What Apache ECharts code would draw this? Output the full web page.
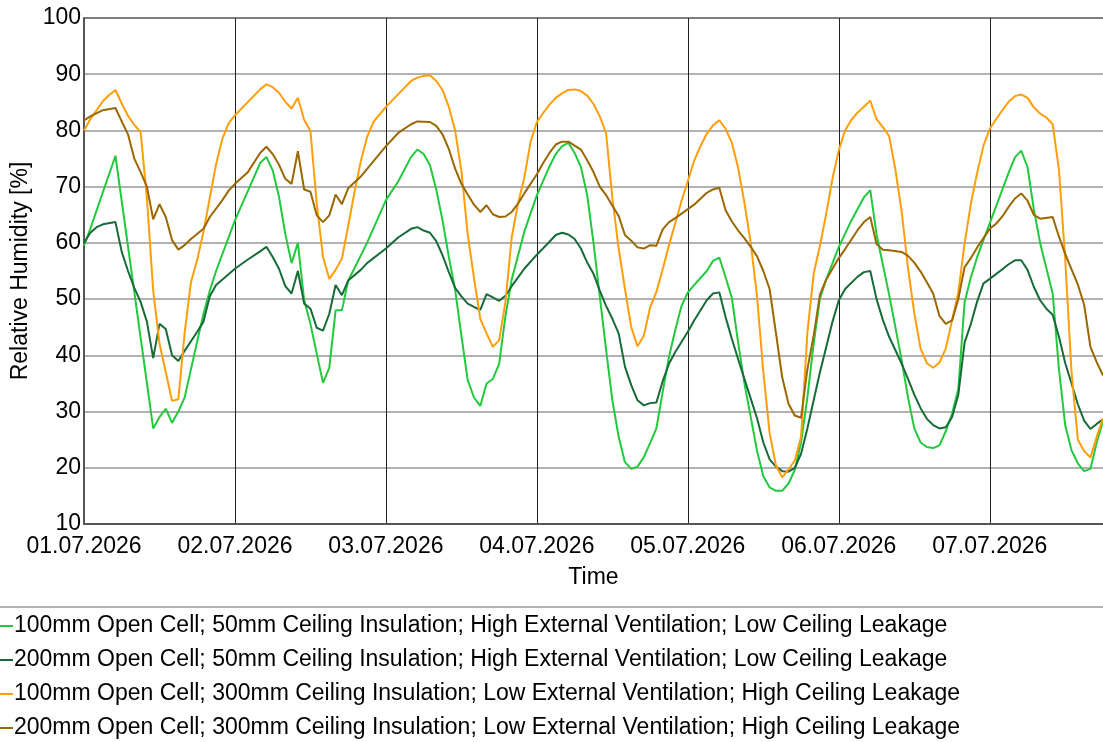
<!DOCTYPE html>
<html>
<head>
<meta charset="utf-8">
<script src="https://cdn.jsdelivr.net/npm/echarts@6/dist/echarts.min.js"></script>
<style>
  html, body { margin: 0; padding: 0; background: #fff; }
  #chart { width: 1103px; height: 742px; }
</style>
</head>
<body>
<div id="chart"></div>
<script>
// hours since 01.07.2026 00:00 -> relative humidity [%]
const dayLabels = ['01.07.2026', '02.07.2026', '03.07.2026', '04.07.2026', '05.07.2026', '06.07.2026', '07.07.2026']

const seriesNames = [
  '100mm Open Cell; 50mm Ceiling Insulation; High External Ventilation; Low Ceiling Leakage',
  '200mm Open Cell; 50mm Ceiling Insulation; High External Ventilation; Low Ceiling Leakage',
  '100mm Open Cell; 300mm Ceiling Insulation; Low External Ventilation; High Ceiling Leakage',
  '200mm Open Cell; 300mm Ceiling Insulation; Low External Ventilation; High Ceiling Leakage'
]

const rh100Low = [
  [0, 59.5], [1, 62.5], [5, 75.5], [11, 27], [12, 29], [13, 30.5], [14, 28], [15, 30], [16, 32.5], [17, 37.5],
  [18, 42.5], [19, 47.4], [20, 51.5], [21, 55], [24, 64], [28, 74.2], [29, 75.3], [30, 72.9], [31, 68.2], [32, 61.6],
  [33, 56.4], [34, 60], [35, 49.8], [36, 45.6], [37, 40.3], [38, 35.1], [39, 37.8], [40, 48], [41, 48], [42, 53.3],
  [43, 55.5], [45, 60], [48, 67.6], [50, 71], [52, 75.3], [53, 76.6], [54, 75.8], [55, 73.8], [56, 69.5], [57, 64],
  [58, 57.5], [59, 51.7], [60, 43.5], [61, 35.6], [62, 32.5], [63, 31], [64, 35], [65, 35.8], [66, 38.5], [67, 47],
  [68, 53.5], [70, 62], [72, 68.5], [74, 73.6], [75, 75.8], [76, 77.2], [77, 77.8], [78, 76], [79, 73.5], [80, 68.5],
  [81, 60], [82, 50.5], [83, 41], [84, 32], [85, 25.5], [86, 21], [87, 19.8], [88, 20.2], [89, 21.9], [90, 24.4],
  [91, 27], [92, 33.5], [93, 39.7], [94, 44.5], [95, 48.8], [96, 51.2], [97, 52.5], [99, 55], [100, 56.8], [101, 57.4],
  [102, 53.9], [103, 50.2], [104, 42.2], [105, 35], [106, 29], [107, 23], [108, 18.5], [109, 16.5], [110, 15.9], [111, 15.9],
  [112, 17.2], [113, 19.6], [114, 24.5], [115, 32.5], [116, 42.1], [117, 50.1], [118, 53.5], [120, 59.3], [122, 64], [124, 68.1],
  [125, 69.4], [126, 61.5], [128, 50.8], [130, 39.1], [131, 32.5], [132, 27], [133, 24.5], [134, 23.7], [135, 23.5], [136, 24],
  [137, 26.5], [138, 29.6], [139, 34], [140, 49.5], [141, 53.9], [142, 57.5], [144, 63.5], [145, 66.5], [146, 69.5], [147, 72.5],
  [148, 75.2], [149, 76.4], [150, 73.5], [151, 66], [152, 60], [153, 55.5], [154, 51], [155, 37.5], [156, 27.5], [157, 23.1],
  [158, 20.8], [159, 19.4], [160, 19.8], [161, 24.5], [162, 28.3]
]

const rh200Low = [
  [0, 60], [1, 61.8], [2, 62.8], [3, 63.3], [5, 63.7], [6, 58.4], [7, 55], [8, 52], [9, 49.5], [10, 46],
  [11, 39.5], [12, 45.6], [13, 44.7], [14, 40], [15, 39], [16, 40.8], [18, 44.2], [19, 46], [20, 50.5], [21, 52.5],
  [24, 55.4], [26, 57], [28, 58.5], [29, 59.3], [30, 57.5], [31, 55.4], [32, 52.3], [33, 51], [34, 55], [35, 49.2],
  [36, 48.3], [37, 44.9], [38, 44.4], [39, 47.4], [40, 52.5], [41, 50.7], [42, 53.3], [44, 55.2], [45, 56.4], [48, 59],
  [50, 61], [52, 62.5], [53, 62.8], [54, 62.2], [55, 61.8], [56, 60.3], [57, 57.8], [58, 54.8], [59, 52], [60, 50.5],
  [61, 49.2], [62, 48.6], [63, 48.1], [64, 50.9], [65, 50.3], [66, 49.7], [67, 50.6], [68, 52.3], [70, 55.4], [72, 57.9],
  [74, 60.2], [75, 61.4], [76, 61.8], [77, 61.5], [78, 60.7], [79, 59], [80, 56.5], [81, 54.5], [82, 51.5], [83, 48.8],
  [84, 46.5], [85, 43.9], [86, 38], [87, 34.7], [88, 32], [89, 31.1], [90, 31.5], [91, 31.6], [92, 35.4], [93, 38.5],
  [94, 40.6], [96, 44.2], [97, 46.2], [99, 49.8], [100, 51], [101, 51.2], [102, 46.8], [103, 42.9], [104, 39.3], [105, 35.8],
  [106, 32.3], [107, 28.8], [108, 24.5], [109, 21.5], [110, 20.2], [111, 19.4], [112, 19.3], [113, 20], [114, 22.5], [115, 27],
  [116, 32], [117, 37], [118, 41.5], [119, 46], [120, 49.8], [121, 51.8], [123, 54], [124, 54.8], [125, 55], [126, 50],
  [127, 46.3], [128, 43.3], [130, 38.5], [131, 35.8], [132, 33], [133, 30.6], [134, 28.7], [135, 27.6], [136, 27], [137, 27.2],
  [138, 29], [139, 33], [140, 42.3], [141, 45.6], [142, 49.6], [143, 52.8], [144, 53.6], [146, 55.3], [147, 56.2], [148, 56.9],
  [149, 56.9], [150, 55.2], [151, 52.2], [152, 49.8], [153, 48.3], [154, 47.2], [155, 43.3], [156, 38.6], [157, 35], [158, 31.3],
  [159, 28.4], [160, 26.9], [161, 27.8], [162, 28.6]
]

const rh100High = [
  [0, 80], [1, 82], [3, 85.2], [4, 86.3], [5, 87.2], [6, 84.8], [7, 82.6], [8, 81], [9, 79.7], [10, 68],
  [11, 51.5], [12, 42.1], [13, 37], [14, 31.9], [15, 32.2], [16, 44], [17, 53], [18, 57], [19, 62], [20, 68],
  [21, 74], [22, 78.5], [23, 81.3], [24, 82.7], [26, 85], [28, 87.3], [29, 88.2], [30, 87.7], [31, 86.7], [32, 85.1],
  [33, 83.9], [34, 85.8], [35, 81.9], [36, 79.9], [37, 67], [38, 57.5], [39, 53.6], [40, 55.2], [41, 57.2], [42, 63],
  [43, 69], [44, 74.5], [45, 78.8], [46, 81.5], [48, 84.2], [50, 86.5], [52, 88.8], [53, 89.4], [54, 89.7], [55, 89.8],
  [56, 88.8], [57, 87.2], [58, 84.2], [59, 80], [60, 72.8], [61, 61.5], [62, 53.8], [63, 46.5], [64, 43.9], [65, 41.5],
  [66, 42.7], [67, 49.5], [68, 61], [69, 67], [70, 71.6], [71, 78], [72, 81.5], [73, 83.1], [74, 84.6], [75, 85.8],
  [76, 86.6], [77, 87.2], [78, 87.3], [79, 87], [80, 86.2], [81, 84.7], [82, 82.5], [83, 79.5], [84, 68], [85, 59],
  [86, 51.8], [87, 45], [88, 41.6], [89, 43.5], [90, 48.5], [91, 51.3], [92, 55.3], [93, 59.6], [94, 63.5], [95, 67.5],
  [96, 71], [97, 74.6], [98, 77.2], [99, 79.4], [100, 80.9], [101, 81.8], [102, 80.3], [103, 77.8], [104, 73.3], [105, 67.1],
  [106, 60], [107, 50.5], [108, 37], [109, 26.2], [110, 20.4], [111, 18.3], [112, 19.7], [113, 21.3], [114, 25.5], [115, 44],
  [116, 54.5], [117, 59.5], [118, 65.2], [119, 71.5], [120, 76.5], [121, 80], [122, 81.9], [123, 83.2], [124, 84.2], [125, 85.3],
  [126, 82], [127, 80.6], [128, 79], [129, 73], [130, 65.5], [131, 55.5], [132, 47.5], [133, 41.2], [134, 38.6], [135, 37.8],
  [136, 38.7], [137, 41.2], [138, 46.2], [139, 51.2], [140, 59.9], [141, 67], [142, 72.5], [143, 77.3], [144, 80.3], [145, 82],
  [146, 83.6], [147, 85.1], [148, 86.1], [149, 86.4], [150, 85.8], [151, 84.1], [152, 83], [153, 82.3], [154, 81.1], [155, 73],
  [156, 57], [157, 37], [158, 25], [159, 23], [160, 21.8], [161, 25.5], [162, 28.8]
]

const rh200High = [
  [0, 81.8], [1, 82.5], [3, 83.6], [5, 84], [6, 81.6], [7, 79.3], [8, 75], [9, 72.6], [10, 70], [11, 64.2],
  [12, 66.9], [13, 64.6], [14, 60.5], [15, 58.8], [16, 59.6], [17, 60.7], [19, 62.5], [20, 64.6], [22, 67.6], [23, 69.3],
  [24, 70.5], [26, 72.5], [28, 76], [29, 77.1], [30, 75.8], [31, 73.9], [32, 71.4], [33, 70.5], [34, 76.3], [35, 69.5],
  [36, 69.1], [37, 64.9], [38, 63.7], [39, 64.9], [40, 68.6], [41, 66.9], [42, 69.7], [44, 71.8], [46, 74.5], [48, 77.2],
  [50, 79.6], [52, 81.1], [53, 81.6], [55, 81.5], [56, 80.8], [57, 79.3], [58, 76.7], [59, 73.2], [60, 70.5], [61, 68.6],
  [62, 66.8], [63, 65.5], [64, 66.7], [65, 65.1], [66, 64.6], [67, 64.7], [68, 65.5], [69, 67], [70, 68.8], [72, 72.2],
  [73, 74.2], [74, 76], [75, 77.5], [76, 78], [77, 78], [78, 77.3], [79, 76.6], [80, 74.7], [81, 72.6], [82, 70],
  [83, 68.5], [84, 66.6], [85, 64.8], [86, 61.4], [87, 60.4], [88, 59.2], [89, 59], [90, 59.6], [91, 59.5], [92, 62.4],
  [93, 63.7], [94, 64.4], [96, 66], [97, 66.8], [99, 68.9], [100, 69.5], [101, 69.8], [102, 65.8], [103, 63.8], [104, 62.2],
  [105, 60.8], [106, 59.3], [107, 57.6], [108, 55], [109, 51.8], [110, 44], [111, 36.1], [112, 31.4], [113, 29.3], [114, 28.9],
  [115, 37.5], [116, 43.5], [117, 50.8], [118, 53.5], [120, 57.3], [121, 58.9], [123, 62.3], [124, 63.7], [125, 64.6], [126, 59.8],
  [127, 58.8], [128, 58.7], [130, 58.4], [131, 57.7], [132, 56.5], [133, 54.9], [134, 53], [135, 51], [136, 47], [137, 45.6],
  [138, 46.2], [139, 50], [140, 55.7], [141, 57.3], [142, 59.2], [144, 62.5], [145, 63.4], [146, 64.7], [147, 66.4], [148, 67.9],
  [149, 68.8], [150, 67.5], [151, 65], [152, 64.3], [154, 64.6], [155, 61.1], [156, 58], [157, 55.3], [158, 52.6], [159, 49],
  [160, 41.5], [161, 38.8], [162, 36.4]
]

const colors = ['#22c93e', '#176b38', '#ff9e0a', '#9a6700']
const font = 'Liberation Sans, Arial, sans-serif'

const chart = echarts.init(document.getElementById('chart'))

const ySplitColors = ['#999', '#999', '#999', '#999', '#999', '#999', '#999', '#999', '#999', '#555']

const option = {
  animation: false,
  textStyle: { fontFamily: font },
  grid: { left: 84, right: 0, top: 18, bottom: 218, containLabel: false, outerBoundsMode: 'none' },
  xAxis: {
    type: 'value',
    min: 0,
    max: 162,
    interval: 24,
    name: 'Time',
    nameLocation: 'middle',
    nameGap: 42,
    nameTextStyle: { fontSize: 23, color: '#000', fontFamily: font },
    axisLine: { show: true, lineStyle: { color: '#555', width: 2 } },
    axisTick: { show: false },
    axisLabel: {
      fontSize: 23,
      color: '#000',
      margin: 11,
      fontFamily: font,
      showMaxLabel: false,
      formatter: function (v) {
        return v % 24 === 0 ? (dayLabels[v / 24] || '') : ''
      }
    },
    splitLine: { show: true, lineStyle: { color: '#222', width: 1 } }
  },
  yAxis: {
    type: 'value',
    min: 10,
    max: 100,
    interval: 10,
    name: 'Relative Humidity [%]',
    nameLocation: 'middle',
    nameGap: 50,
    nameTextStyle: { fontSize: 23, color: '#000', fontFamily: font },
    axisLine: { show: true, lineStyle: { color: '#555', width: 2 } },
    axisTick: { show: false },
    axisLabel: { fontSize: 23, color: '#000', margin: 3, fontFamily: font },
    splitLine: { show: true, lineStyle: { color: ySplitColors, width: 1.5 } }
  },
  legend: {
    orient: 'vertical',
    left: 0,
    top: 614,
    padding: 0,
    icon: 'rect',
    itemWidth: 13,
    itemHeight: 2,
    itemGap: 10,
    textStyle: { fontSize: 23, color: '#000', lineHeight: 24, fontFamily: font, padding: [0, 0, 0, -4] },
    data: seriesNames
  },
  graphic: [
    {
      type: 'line',
      shape: { x1: 0, y1: 607, x2: 1103, y2: 607 },
      style: { stroke: '#666', lineWidth: 1 }
    }
  ],
  series: [rh100Low, rh200Low, rh100High, rh200High].map((d, i) => ({
    name: seriesNames[i],
    type: 'line',
    data: d,
    symbol: 'none',
    color: colors[i],
    lineStyle: { width: 2, color: colors[i] }
  }))
}

chart.setOption(option)
</script>
</body>
</html>
